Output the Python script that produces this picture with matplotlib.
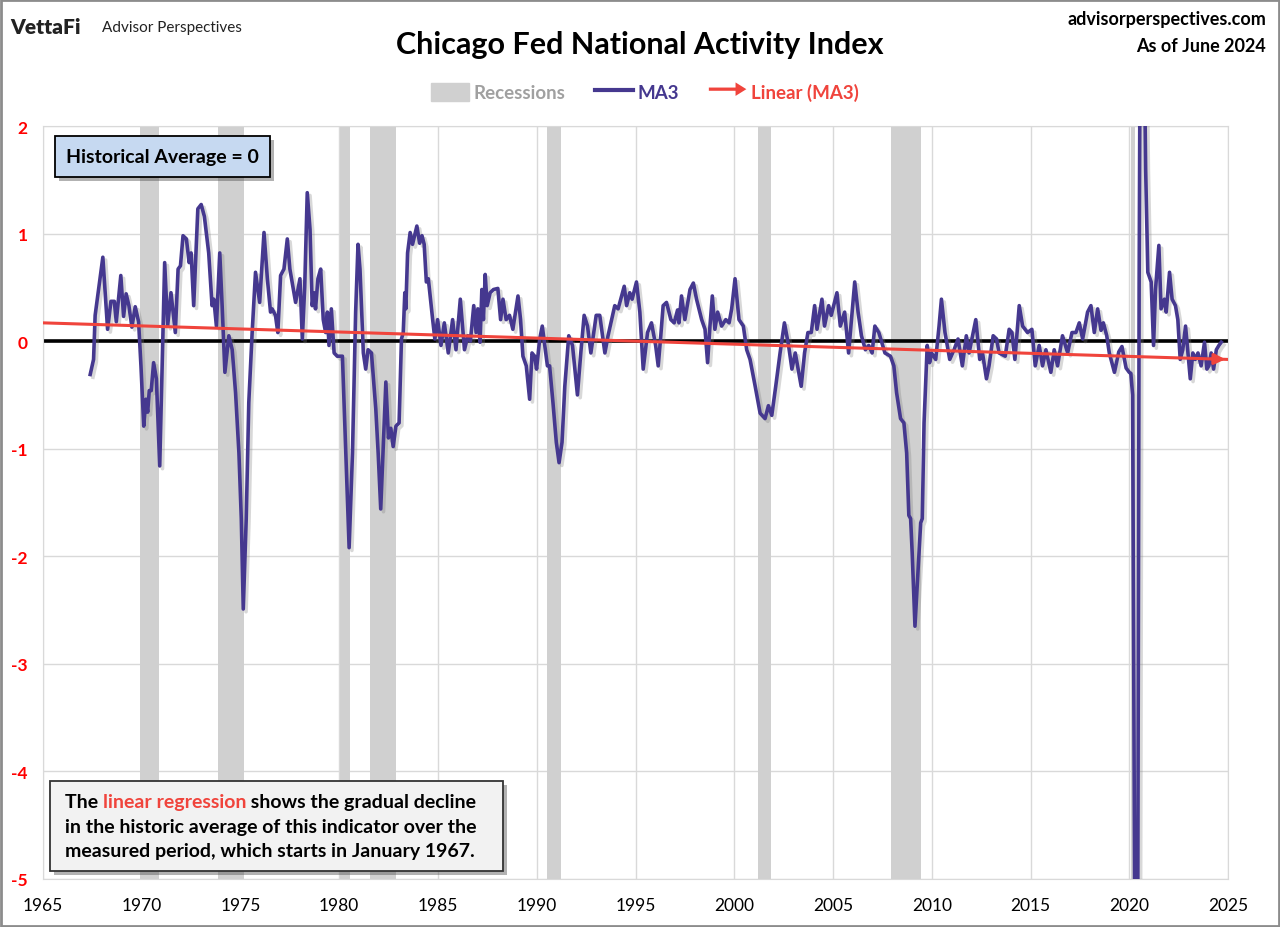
import matplotlib
matplotlib.use('Agg')
import matplotlib.pyplot as plt
import matplotlib.patches as mpatches
import matplotlib.patheffects as pe
from matplotlib.legend_handler import HandlerPatch
from matplotlib.lines import Line2D
import numpy as np

plt.rcParams['font.family'] = ['Lato', 'DejaVu Sans']
plt.rcParams['axes.unicode_minus'] = False

# MA3 of the CFNAI at its turning points (decimal years)
ma3_years = [
    1967.39, 1967.56, 1967.64, 1968.03, 1968.27, 1968.44, 1968.61, 1968.71, 1968.94, 1969.08,
    1969.21, 1969.35, 1969.50, 1969.67, 1969.84, 1969.96, 1970.10, 1970.21, 1970.30, 1970.38,
    1970.48, 1970.60, 1970.74, 1970.91, 1971.16, 1971.31, 1971.48, 1971.70, 1971.84, 1971.96,
    1972.09, 1972.26, 1972.40, 1972.50, 1972.63, 1972.84, 1973.01, 1973.17, 1973.39, 1973.56,
    1973.65, 1973.78, 1973.95, 1974.07, 1974.21, 1974.41, 1974.58, 1974.75, 1974.92, 1975.04,
    1975.14, 1975.29, 1975.42, 1975.59, 1975.76, 1975.97, 1976.19, 1976.36, 1976.52, 1976.60,
    1976.77, 1976.89, 1977.03, 1977.20, 1977.37, 1977.50, 1977.79, 1978.01, 1978.13, 1978.25,
    1978.38, 1978.52, 1978.63, 1978.72, 1978.80, 1978.92, 1979.06, 1979.19, 1979.31, 1979.40,
    1979.48, 1979.60, 1979.74, 1979.90, 1980.16, 1980.33, 1980.50, 1980.67, 1980.83, 1980.95,
    1981.05, 1981.22, 1981.34, 1981.46, 1981.63, 1981.85, 1981.97, 1982.10, 1982.36, 1982.49,
    1982.61, 1982.73, 1982.87, 1983.03, 1983.15, 1983.24, 1983.32, 1983.37, 1983.46, 1983.59,
    1983.71, 1983.93, 1984.07, 1984.19, 1984.30, 1984.41, 1984.51, 1984.73, 1984.84, 1984.98,
    1985.15, 1985.32, 1985.52, 1985.74, 1985.91, 1986.13, 1986.34, 1986.51, 1986.64, 1986.81,
    1986.93, 1987.02, 1987.13, 1987.22, 1987.30, 1987.39, 1987.49, 1987.64, 1987.81, 1988.03,
    1988.17, 1988.29, 1988.45, 1988.62, 1988.79, 1989.05, 1989.18, 1989.30, 1989.47, 1989.64,
    1989.76, 1989.89, 1989.99, 1990.15, 1990.28, 1990.54, 1990.65, 1990.82, 1990.99, 1991.13,
    1991.28, 1991.42, 1991.62, 1991.81, 1992.06, 1992.23, 1992.40, 1992.57, 1992.74, 1993.01,
    1993.19, 1993.45, 1993.61, 1993.95, 1994.12, 1994.43, 1994.55, 1994.71, 1994.83, 1995.05,
    1995.22, 1995.39, 1995.61, 1995.81, 1996.02, 1996.15, 1996.28, 1996.40, 1996.57, 1996.79,
    1996.96, 1997.13, 1997.20, 1997.33, 1997.50, 1997.76, 1997.93, 1998.09, 1998.35, 1998.52,
    1998.65, 1998.77, 1998.89, 1999.02, 1999.16, 1999.36, 1999.57, 1999.74, 1999.87, 2000.04,
    2000.24, 2000.46, 2000.63, 2000.80, 2001.06, 2001.31, 2001.56, 2001.73, 2001.90, 2002.10,
    2002.32, 2002.54, 2002.75, 2002.92, 2003.09, 2003.39, 2003.56, 2003.73, 2003.90, 2004.07,
    2004.19, 2004.44, 2004.57, 2004.78, 2004.91, 2005.20, 2005.37, 2005.59, 2005.79, 2006.10,
    2006.27, 2006.44, 2006.64, 2006.81, 2006.98, 2007.12, 2007.32, 2007.63, 2007.91, 2008.08,
    2008.22, 2008.42, 2008.59, 2008.73, 2008.84, 2008.93, 2009.01, 2009.15, 2009.28, 2009.44,
    2009.52, 2009.61, 2009.77, 2009.89, 2009.99, 2010.20, 2010.37, 2010.49, 2010.67, 2010.91,
    2011.13, 2011.33, 2011.55, 2011.75, 2011.89, 2012.23, 2012.43, 2012.57, 2012.77, 2012.90,
    2013.11, 2013.28, 2013.41, 2013.72, 2013.92, 2014.06, 2014.21, 2014.43, 2014.60, 2014.85,
    2015.07, 2015.24, 2015.44, 2015.61, 2015.78, 2016.03, 2016.20, 2016.37, 2016.62, 2016.88,
    2017.10, 2017.30, 2017.47, 2017.64, 2017.89, 2018.06, 2018.23, 2018.40, 2018.57, 2018.69,
    2018.86, 2018.99, 2019.25, 2019.47, 2019.63, 2019.84, 2020.00, 2020.08, 2020.17, 2020.25,
    2020.33, 2020.42, 2020.50, 2020.58, 2020.67, 2020.75, 2020.83, 2020.94, 2021.11, 2021.23,
    2021.33, 2021.50, 2021.61, 2021.78, 2021.87, 2022.04, 2022.17, 2022.34, 2022.46, 2022.58,
    2022.71, 2022.85, 2022.97, 2023.09, 2023.22, 2023.34, 2023.48, 2023.64, 2023.81, 2023.93,
    2024.03, 2024.15, 2024.27, 2024.41, 2024.54, 2024.66,
]
ma3_values = [
    -0.31, -0.17, 0.24, 0.78, 0.11, 0.37, 0.37, 0.18, 0.61, 0.23,
    0.44, 0.33, 0.13, 0.32, 0.18, -0.23, -0.79, -0.54, -0.66, -0.46,
    -0.46, -0.20, -0.35, -1.16, 0.73, 0.14, 0.45, 0.08, 0.67, 0.70,
    0.98, 0.95, 0.73, 0.82, 0.33, 1.23, 1.27, 1.16, 0.82, 0.33,
    0.39, 0.14, 0.82, 0.33, -0.29, 0.05, -0.08, -0.48, -1.04, -1.65,
    -2.49, -1.65, -0.57, 0.08, 0.64, 0.36, 1.01, 0.58, 0.27, 0.30,
    0.24, 0.08, 0.61, 0.67, 0.95, 0.67, 0.36, 0.58, 0.02, 0.50,
    1.38, 1.04, 0.33, 0.45, 0.30, 0.58, 0.67, 0.20, 0.08, 0.27,
    -0.04, 0.30, -0.11, -0.14, -0.14, -1.04, -1.92, -1.04, 0.27, 0.90,
    0.67, -0.11, -0.26, -0.08, -0.11, -0.63, -1.04, -1.56, -0.38, -0.90,
    -0.81, -0.98, -0.79, -0.76, 0.02, 0.08, 0.45, 0.30, 0.82, 1.01,
    0.90, 1.07, 0.91, 0.98, 0.90, 0.55, 0.58, 0.20, 0.02, 0.20,
    -0.04, 0.17, -0.11, 0.20, -0.08, 0.39, -0.08, 0.05, 0.00, 0.33,
    0.08, 0.30, -0.01, 0.48, 0.20, 0.62, 0.33, 0.45, 0.48, 0.49,
    0.20, 0.39, 0.20, 0.24, 0.11, 0.42, 0.20, -0.14, -0.23, -0.54,
    -0.11, -0.14, -0.26, 0.02, 0.14, -0.23, -0.23, -0.57, -0.94, -1.13,
    -0.94, -0.42, 0.05, -0.04, -0.50, -0.11, 0.24, 0.14, -0.11, 0.24,
    0.24, -0.11, 0.05, 0.33, 0.30, 0.51, 0.33, 0.45, 0.39, 0.55,
    0.27, -0.26, 0.08, 0.17, -0.04, -0.23, 0.05, 0.33, 0.36, 0.20,
    0.17, 0.29, 0.17, 0.42, 0.20, 0.48, 0.54, 0.39, 0.20, 0.11,
    -0.20, 0.14, 0.42, 0.11, 0.27, 0.14, 0.20, 0.17, 0.30, 0.58,
    0.20, 0.14, -0.08, -0.17, -0.42, -0.67, -0.72, -0.60, -0.69, -0.42,
    -0.11, 0.17, -0.04, -0.26, -0.11, -0.42, -0.11, 0.08, 0.08, 0.33,
    0.11, 0.39, 0.14, 0.33, 0.24, 0.45, 0.14, 0.27, -0.11, 0.55,
    0.27, 0.05, -0.08, -0.04, -0.11, 0.14, 0.08, -0.11, -0.14, -0.23,
    -0.48, -0.72, -0.76, -1.04, -1.62, -1.65, -1.97, -2.65, -2.22, -1.69,
    -1.65, -0.76, -0.04, -0.20, -0.11, -0.17, 0.14, 0.39, 0.08, -0.17,
    -0.08, 0.02, -0.23, 0.05, -0.11, 0.20, -0.17, -0.11, -0.35, -0.23,
    0.05, 0.02, -0.11, -0.14, 0.11, 0.08, -0.17, 0.33, 0.14, 0.08,
    0.11, -0.23, -0.04, -0.23, -0.08, -0.29, -0.08, -0.23, 0.05, -0.11,
    0.08, 0.08, 0.17, 0.02, 0.27, 0.33, 0.08, 0.30, 0.10, 0.17,
    0.05, -0.11, -0.29, -0.10, -0.05, -0.25, -0.29, -0.30, -0.50, -4.20,
    -7.50, -6.30, 0.50, 4.20, 4.80, 2.90, 1.60, 0.64, 0.55, -0.04,
    0.48, 0.89, 0.30, 0.39, 0.27, 0.64, 0.39, 0.33, 0.20, -0.17,
    -0.08, 0.14, -0.11, -0.35, -0.11, -0.17, -0.11, -0.23, -0.01, -0.26,
    -0.23, -0.11, -0.26, -0.08, -0.04, -0.01,
]

# Linear trendline of the MA3 (end points)
trend_years = [1965, 2025]
trend_values = [0.17, -0.17]

# NBER recessions (start, end)
recessions = [
    (1969.92, 1970.88), (1973.88, 1975.20), (1980.04, 1980.54), (1981.54, 1982.88),
    (1990.54, 1991.21), (2001.21, 2001.88), (2007.96, 2009.46), (2020.10, 2020.30),
]

x_ticks = list(range(1965, 2026, 5))
y_ticks = list(range(-5, 3))

purple = '#45388F'
red = '#F0443C'
rec_gray = '#D0D0D0'

W, H = 1280, 928


def fx(px):
    return px / W


def fy(py):
    return 1 - py / H


fig = plt.figure(figsize=(12.8, 9.28), dpi=100)
ax = fig.add_axes([fx(43), fy(880), fx(1228 - 43), (880 - 127) / H])

for s, e in recessions:
    ax.axvspan(s, e, color=rec_gray, lw=0, zorder=1)

ax.axhline(0, color='black', lw=2.6, zorder=2)
ax.plot(ma3_years, ma3_values, color=purple, lw=2.6, zorder=3, solid_joinstyle='round',
        path_effects=[pe.SimpleLineShadow(offset=(2, -2), shadow_color='gray', alpha=0.3),
                      pe.Normal()])
ax.plot(trend_years, trend_values, color=red, lw=2.2, zorder=4)
arrow_tail = np.interp(2024.0, trend_years, trend_values)
ax.annotate('', xy=(trend_years[1], trend_values[1]), xytext=(2024.0, arrow_tail),
            arrowprops=dict(arrowstyle='-|>', color=red, lw=2.2, mutation_scale=16),
            annotation_clip=False, zorder=5)

ax.set_xlim(1965, 2025)
ax.set_ylim(-5, 2)
ax.set_xticks(x_ticks)
ax.set_yticks(y_ticks)
ax.grid(color='#D9D9D9', lw=1)
ax.set_axisbelow(True)
ax.tick_params(length=0)
ax.tick_params(axis='x', labelsize=12.5, pad=13)
ax.tick_params(axis='y', labelsize=12.5, pad=11, labelcolor='#FF0000')
for lab in ax.get_yticklabels():
    lab.set_fontweight('bold')
for sp in ax.spines.values():
    sp.set_color('#D9D9D9')


# legend
def make_arrow(legend, orig_handle, xdescent, ydescent, width, height, fontsize):
    return mpatches.FancyArrow(0, height / 2, width, 0, width=height * 0.18,
                               head_width=height * 0.75, head_length=height * 0.6,
                               length_includes_head=True)


handles = [mpatches.Patch(color=rec_gray),
           Line2D([], [], color=purple, lw=3),
           mpatches.FancyArrow(0, 0, 1, 0, color=red, lw=0)]
labels = ['Recessions', 'MA3', 'Linear (MA3)']
leg = fig.legend(handles, labels, loc='center', bbox_to_anchor=(fx(645), fy(93)), ncol=3,
                 frameon=False, prop=dict(weight='bold', size=13.5), handlelength=2.0,
                 handleheight=1.1, handletextpad=0.25, columnspacing=1.6,
                 handler_map={mpatches.FancyArrow: HandlerPatch(patch_func=make_arrow)})
for t, c in zip(leg.get_texts(), ['#A0A0A0', purple, red]):
    t.set_color(c)

# header
fig.text(fx(640), fy(45), 'Chicago Fed National Activity Index', ha='center', va='center',
         fontsize=22, weight='bold')
fig.text(fx(10), fy(27), 'VettaFi', ha='left', va='center', fontsize=15, weight='heavy',
         color='#222222')
fig.text(fx(102), fy(28), 'Advisor Perspectives', ha='left', va='center', fontsize=11,
         color='#222222')
fig.text(fx(1266), fy(20), 'advisorperspectives.com', ha='right', va='center', fontsize=13,
         weight='bold')
fig.text(fx(1266), fy(47), 'As of June 2024', ha='right', va='center', fontsize=13,
         weight='bold')

shadow = [pe.withSimplePatchShadow(offset=(3, -3), shadow_rgbFace='#555555', alpha=0.45)]

# historical average box
box1 = mpatches.Rectangle((fx(55), fy(178)), fx(270 - 55), (178 - 137) / H,
                          transform=fig.transFigure, fc='#C6D9F1', ec='black', lw=1.3,
                          path_effects=shadow, zorder=6)
fig.add_artist(box1)
fig.text(fx(162), fy(158), 'Historical Average = 0', ha='center', va='center',
         fontsize=14, weight='bold', zorder=7)

# regression note box
box2 = mpatches.Rectangle((fx(50), fy(872)), fx(503 - 50), (872 - 782) / H,
                          transform=fig.transFigure, fc='#F2F2F2', ec='#333333', lw=1.3,
                          path_effects=shadow, zorder=6)
fig.add_artist(box2)
note_kw = dict(fontsize=14, weight='bold', zorder=7, va='baseline', ha='left')
renderer = fig.canvas.get_renderer()
x_px = 65
for piece, col in [('The ', 'black'), ('linear regression', red),
                   (' shows the gradual decline', 'black')]:
    t = fig.text(fx(x_px), fy(808), piece, color=col, **note_kw)
    x_px += t.get_window_extent(renderer).width
fig.text(fx(65), fy(833), 'in the historic average of this indicator over the', **note_kw)
fig.text(fx(65), fy(857), 'measured period, which starts in January 1967.', **note_kw)

# outer frame
fig.add_artist(mpatches.Rectangle((0.001, 0.001), 0.998, 0.998, transform=fig.transFigure,
                                  fill=False, ec='#8C8C8C', lw=2))

fig.savefig('out.png', dpi=100)
